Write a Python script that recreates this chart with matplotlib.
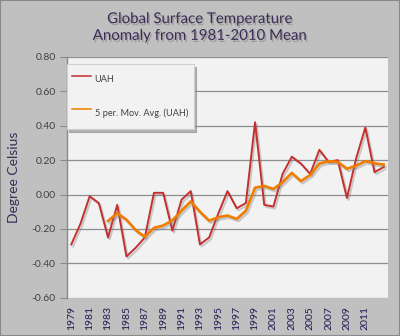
import numpy as np
import pandas as pd
import matplotlib
matplotlib.use("Agg")
import matplotlib.pyplot as plt
import matplotlib.patheffects as pe
from matplotlib.patches import Rectangle

# Annual UAH global temperature anomaly (deg C, relative to 1981-2010)
years = list(range(1979, 2014))
uah = [-0.29, -0.17, -0.01, -0.05, -0.25, -0.06, -0.36, -0.31, -0.25, 0.01,
       0.01, -0.21, -0.03, 0.02, -0.29, -0.25, -0.11, 0.02, -0.08, -0.05,
       0.42, -0.06, -0.07, 0.12, 0.22, 0.18, 0.12, 0.26, 0.19, 0.20,
       -0.02, 0.21, 0.39, 0.13, 0.16]
tick_years = list(range(1979, 2012, 2))
y_ticks = [-0.6, -0.4, -0.2, 0.0, 0.2, 0.4, 0.6, 0.8]

series = pd.Series(uah, index=years)
mov_avg = series.rolling(5).mean()

FONT = ["Lato", "DejaVu Sans"]
TITLE_COLOR = "#3b2d57"

fig = plt.figure(figsize=(4.0, 3.36), dpi=100, facecolor="#c0c0c0")
fig.patches.append(Rectangle((0, 0), 1, 1, transform=fig.transFigure,
                             fill=False, edgecolor="#8a8a8a", lw=1.5))

W, H = 400.0, 336.0
left, right, top, bottom = 66.7, 388.3, 57.0, 297.7
ax = fig.add_axes([left / W, 1 - bottom / H, (right - left) / W, (bottom - top) / H])
ax.set_facecolor("#f2f2f2")

pos = np.arange(len(years))
idx = {y: i for i, y in enumerate(years)}

shadow = [pe.SimpleLineShadow(offset=(1.2, -1.5), shadow_color="#777777", alpha=0.35),
          pe.Normal()]
ax.plot(pos, series.values, color="#c3302e", lw=1.4, label="UAH",
        path_effects=shadow, zorder=3)
ax.plot(pos, mov_avg.values, color="#f07c00", lw=1.9,
        label="5 per. Mov. Avg. (UAH)", path_effects=shadow, zorder=4)

ax.set_xlim(-0.5, len(years) - 0.5)
ax.set_ylim(-0.6, 0.8)
ax.set_yticks(y_ticks)
ax.set_yticklabels([f"{v:.2f}" for v in y_ticks], fontsize=7.5, color="#404040",
                   family=FONT)
ax.set_xticks([idx[y] for y in tick_years])
ax.set_xticklabels([str(y) for y in tick_years], rotation=90, fontsize=7.5,
                   color="#1c1c54", family=FONT)
ax.tick_params(axis="x", length=0, pad=6)
ax.tick_params(axis="y", length=5, width=0.8, color="#8a8a8a", pad=3)

ax.yaxis.grid(True, color="#8e8e8e", lw=0.9)
ax.set_axisbelow(True)
for s in ["top", "right", "bottom"]:
    ax.spines[s].set_visible(False)
ax.spines["left"].set_color("#8a8a8a")
ax.spines["left"].set_linewidth(1.0)

ax.set_ylabel("Degree Celsius", fontsize=10, color=TITLE_COLOR, family=FONT,
              labelpad=8)

leg = ax.legend(loc="upper left", bbox_to_anchor=(0.0, 0.971), frameon=True,
                labelspacing=1.35, handlelength=2.1, handleheight=3.1,
                handletextpad=0.35, borderpad=0.6, borderaxespad=0.0,
                fancybox=False, prop={"family": FONT, "size": 6.6},
                shadow={"color": "#888888", "alpha": 0.6, "ox": 2, "oy": -2})
leg.get_frame().set_facecolor("#f2f2f2")
leg.get_frame().set_edgecolor("#d0d0d0")
leg.get_frame().set_linewidth(0.8)
for t in leg.get_texts():
    t.set_color("#404040")
for ln in leg.get_lines():
    ln.set_linewidth(1.1)
    ln.set_path_effects([])
leg.set_zorder(5)

fig.text(0.5, 1 - 27.5 / H, "Global Surface Temperature\nAnomaly from 1981-2010 Mean",
         ha="center", va="center", fontsize=10.8, color=TITLE_COLOR, family=FONT,
         linespacing=1.25,
         path_effects=[pe.withSimplePatchShadow(offset=(1, -1.5),
                                                shadow_rgbFace="#777777", alpha=0.5)])

fig.savefig("out.png", dpi=100, facecolor=fig.get_facecolor())
